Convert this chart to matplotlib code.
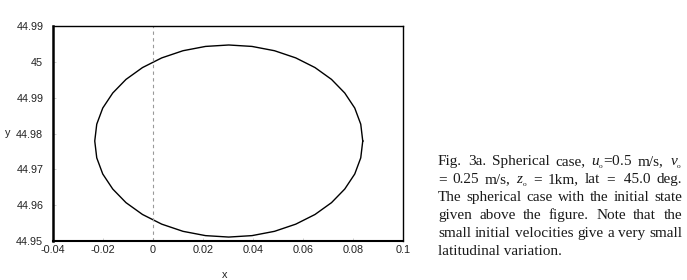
import matplotlib
matplotlib.use('Agg')
import matplotlib.pyplot as plt

plt.rcParams['mathtext.fontset'] = 'custom'
plt.rcParams['mathtext.rm'] = 'Liberation Serif'
plt.rcParams['mathtext.it'] = 'Liberation Serif:italic'

# trajectory (longitude offset, latitude)
xs = [0.0839, 0.0831, 0.0807, 0.0767, 0.0714, 0.0648, 0.0571, 0.0486, 0.0396,
      0.0303, 0.0210, 0.0120, 0.0035, -0.0042, -0.0108, -0.0161, -0.0201, -0.0225,
      -0.0233, -0.0225, -0.0201, -0.0161, -0.0108, -0.0042, 0.0035, 0.0120, 0.0210,
      0.0303, 0.0396, 0.0486, 0.0571, 0.0648, 0.0714, 0.0767, 0.0807, 0.0831, 0.0839]
ys = [44.9779, 44.9826, 44.9871, 44.9913, 44.9951, 44.9984, 45.0011, 45.0031, 45.0043,
      45.0047, 45.0043, 45.0031, 45.0011, 44.9984, 44.9951, 44.9913, 44.9871, 44.9826,
      44.9779, 44.9732, 44.9687, 44.9645, 44.9607, 44.9574, 44.9547, 44.9527, 44.9515,
      44.9511, 44.9515, 44.9527, 44.9547, 44.9574, 44.9607, 44.9645, 44.9687, 44.9732, 44.9779]

x_ticks = [-0.04, -0.02, 0, 0.02, 0.04, 0.06, 0.08, 0.1]
x_labels = ['-0.04', '-0.02', '0', '0.02', '0.04', '0.06', '0.08', '0.1']
y_ticks = [44.95, 44.96, 44.97, 44.98, 44.99, 45.00, 45.01]
y_labels = ['44.95', '44.96', '44.97', '44.98', '44.99', '45', '44.99']

caption = [
    ['Fig.', '3a.', 'Spherical', 'case,', r'$u_{_{\mathrm{o}}}$=0.5', 'm/s,', r'$v_{_{\mathrm{o}}}$'],
    ['=', '0.25', 'm/s,', r'$z_{_{\mathrm{o}}}$', '=', '1km,', 'lat', '=', ' 45.0', 'deg.'],
    'The spherical case with the initial state'.split(),
    'given above the figure. Note that the'.split(),
    'small initial velocities give a very small'.split(),
]
last_line = 'latitudinal variation.'

W, H = 687, 280
fig = plt.figure(figsize=(W / 100, H / 100), dpi=100)
ax = fig.add_axes([53 / W, 39 / H, 350 / W, 215 / H])

ax.plot(xs, ys, color='black', lw=1.0)
ax.axvline(0, color='#999999', lw=0.8, ls=(0, (3, 3)))

ax.set_xlim(-0.04, 0.1)
ax.set_ylim(44.95, 45.01)
ax.set_xticks(x_ticks)
ax.set_xticklabels(x_labels)
ax.set_yticks(y_ticks)
ax.set_yticklabels(y_labels)
ax.tick_params(direction='in', length=2, width=0.5, colors='#bbbbbb',
               labelcolor='#222222', labelsize=7.8)
ax.tick_params(axis='y', pad=7)
ax.tick_params(axis='x', pad=3)
for lab in ax.get_xticklabels() + ax.get_yticklabels():
    lab.set_family('Liberation Sans')

for side, w in [('left', 1.8), ('bottom', 1.5), ('top', 1.0), ('right', 1.0)]:
    ax.spines[side].set_linewidth(w)
    ax.spines[side].set_color('black')

ax.set_xlabel('x', fontsize=7.8, family='Liberation Sans', color='#222222')
ax.set_ylabel('y', fontsize=7.8, family='Liberation Sans', color='#222222',
              rotation=0, ha='center', va='center')
ax.xaxis.set_label_coords(0.49, -0.135)
ax.yaxis.set_label_coords(-0.128, 0.5)

# justified caption on the right
fig.canvas.draw()
r = fig.canvas.get_renderer()
left, right = 438, 682
fs = 11
for i, words in enumerate(caption):
    base = 165 + 18 * i
    texts = [fig.text(left / W, 1 - base / H, w, fontsize=fs, family='Liberation Serif',
                      color='#1a1a1a', va='baseline', ha='left') for w in words]
    widths = [t.get_window_extent(r).width for t in texts]
    gap = (right - left - sum(widths)) / (len(words) - 1)
    x = left
    for t, wd in zip(texts, widths):
        t.set_x(x / W)
        x += wd + gap
fig.text(left / W, 1 - (165 + 18 * 5) / H, last_line, fontsize=fs,
         family='Liberation Serif', color='#1a1a1a', va='baseline', ha='left')

fig.savefig('out.png', dpi=100)
